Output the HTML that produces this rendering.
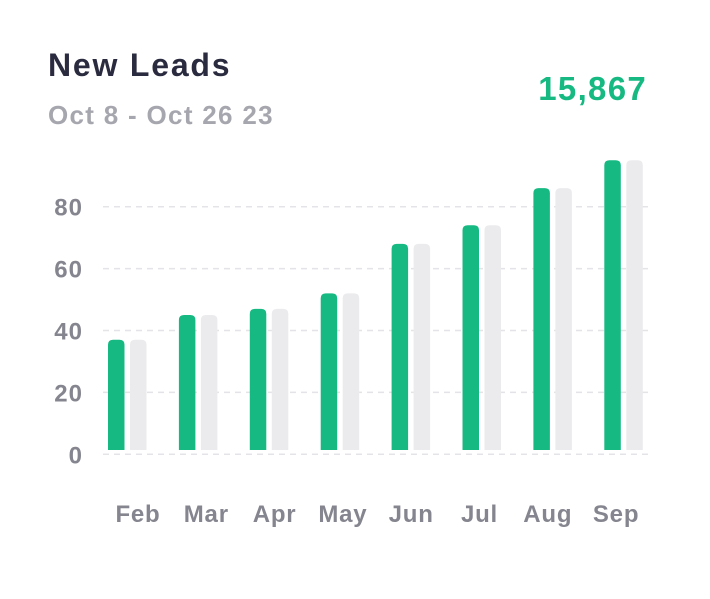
<!DOCTYPE html>
<html><head><meta charset="utf-8"><style>
body{margin:0;background:#fff;width:710px;height:594px;overflow:hidden;font-family:"Liberation Sans",sans-serif}
</style></head><body>
<svg width="710" height="594">
<text x="48" y="76" font-size="32" font-weight="bold" fill="#2b2b40" letter-spacing="1.8">New Leads</text>
<text x="48" y="124" font-size="26" font-weight="bold" fill="#a6a6ae" letter-spacing="1.3">Oct 8 - Oct 26 23</text>
<text x="647" y="100" font-size="33" font-weight="bold" fill="#17b983" text-anchor="end" letter-spacing="1.3">15,867</text>
<g id="grid"></g><g id="bars"></g><g id="xl"></g>
</svg>
<script>
const categories=["Feb","Mar","Apr","May","Jun","Jul","Aug","Sep"];
const seriesCurrent=[37,45,47,52,68,74,86,95];
const seriesPrevious=[37,45,47,52,68,74,86,95];
const yTicks=[0,20,40,60,80];
const NS="http://www.w3.org/2000/svg";
function y(v){return 454.3-v*3.095;}
function xc(i){return 127+i*70.9;}
function xlab(i){return 138+i*68.3;}
function mk(t,a,p){const e=document.createElementNS(NS,t);for(const k in a)e.setAttribute(k,a[k]);p.appendChild(e);return e;}
const g=document.getElementById('grid'),b=document.getElementById('bars'),xl=document.getElementById('xl');
yTicks.forEach(v=>{
 const l=mk('line',{x1:103,x2:652,y1:y(v),y2:y(v),stroke:'#e4e4e8','stroke-width':1.5,'stroke-dasharray':'6 5'},g);
 
 
 const t=mk('text',{x:83,y:y(v)+9,'font-size':24,'font-weight':'bold',fill:'#85858f','text-anchor':'end','letter-spacing':1},g);
 t.textContent=v;
 
 
});
function bar(x,v){
 const top=y(v),bot=450,w=16.5,r=5;
 return `M${x},${bot}V${top+r}Q${x},${top} ${x+r},${top}H${x+w-r}Q${x+w},${top} ${x+w},${top+r}V${bot}Z`;
}
categories.forEach((c,i)=>{
 const p1=mk('path',{d:bar(xc(i)-19,seriesCurrent[i]),fill:'#17b983'},b);
 
 
 const p2=mk('path',{d:bar(xc(i)+3,seriesPrevious[i]),fill:'#ebebee'},b);
 
 
 const t=mk('text',{x:xlab(i),y:522,'font-size':24,'font-weight':'bold',fill:'#85858f','text-anchor':'middle','letter-spacing':0.8},xl);
 t.textContent=c;
 
 
});
</script>
</body></html>
